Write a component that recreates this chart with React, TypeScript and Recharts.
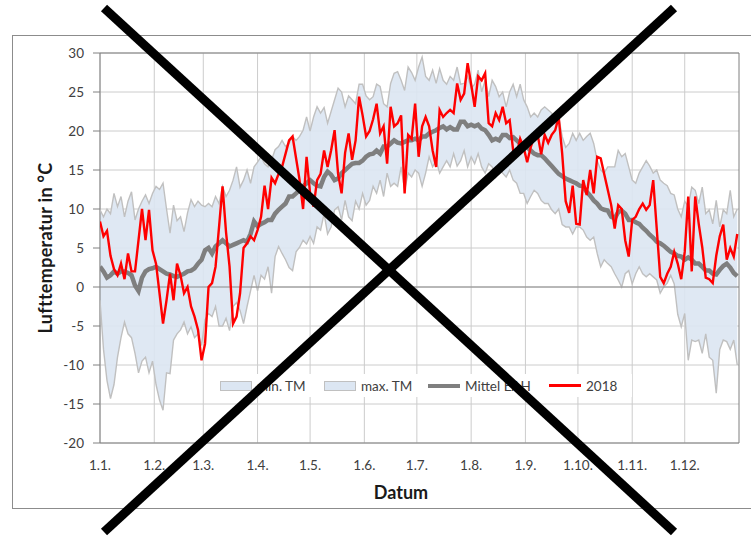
import React from "react"
import {
  ComposedChart, Area, Line, XAxis, YAxis, CartesianGrid,
  ReferenceLine, ReferenceArea,
} from "recharts"

// readings taken every second day of the year (day 0 = 1.1.)
const DAY_STEP = 2

const MONTH_START_DAYS = [0, 31, 59, 90, 120, 151, 181, 212, 243, 273, 304, 334]
const MONTH_LABELS = ["1.1.", "1.2.", "1.3.", "1.4.", "1.5.", "1.6.", "1.7.", "1.8.", "1.9.", "1.10.", "1.11.", "1.12."]
const Y_TICKS = [-20, -15, -10, -5, 0, 5, 10, 15, 20, 25, 30]

const T_2018 = [
  8.4, 6.5, 7.2, 4, 2.3, 1.5, 3, 1.0, 4.3, 2.0,
  2.0, 6.0, 10.0, 6.0, 9.9, 4.7, 3.0, -0.8, -4.7, -1.7,
  1.7, -1.7, 3.0, 1.5, -0.8, 0.0, -2.5, -3.8, -5.5, -9.4,
  -7.3, 0, 0.5, 2.6, 7.7, 12.9, 7, 2.6, -4.7, -3.8,
  -0.8, 5, 5.6, 6.5, 6, 7.3, 9, 13, 10, 14,
  13.3, 14.5, 15.4, 17.1, 18.8, 19.3, 16.5, 13.7, 10, 16.7,
  12, 10.3, 13.7, 14.5, 17.5, 15.4, 17.5, 20.1, 14.5, 12,
  17.2, 19.7, 16.3, 18.8, 24.4, 22, 19.3, 20, 21.5, 23.5,
  19.7, 20.6, 15.8, 23.1, 20.6, 21, 22, 12, 19.5, 19,
  23.5, 16.7, 20.6, 21.8, 20.6, 17.5, 15.4, 22.7, 21.8, 22.3,
  22.7, 22.3, 26.1, 24, 24.8, 28.7, 26, 23.1, 27, 26.5,
  27.4, 21, 20.6, 22.3, 21.4, 23.1, 21, 21.4, 17.5, 17,
  19, 17.9, 16, 17.9, 19.3, 19.5, 17, 19.5, 18.5, 19.5,
  20.1, 21.8, 17.1, 11, 9.5, 13, 8.1, 8, 13.7, 11.8,
  15, 12, 16.7, 16.5, 14.5, 12.5, 10.5, 7.5, 10.5, 10,
  6, 3.9, 8.6, 9, 10, 10.7, 9.9, 10.5, 13.7, 7.5,
  1.3, 0.5, 1.7, 2.6, 4.5, 3, 1, 4.5, 11.6, 2,
  11.6, 8.1, 5.1, 1.2, 1, 0.5, 4, 6.5, 8, 3.5,
  5, 3.9, 6.8,
]

const MAX_TM = [
  9.9, 9, 10, 9.4, 12, 10.3, 11.6, 9, 11, 12.2,
  8.6, 10, 11, 11.8, 10.7, 12, 12.9, 12.5, 13.3, 10,
  6.9, 10.5, 8.5, 9, 7.1, 9.5, 11.2, 10.3, 11, 10.5,
  10.3, 10.7, 10.3, 11.6, 10.7, 12.9, 11.6, 12.4, 13.7, 15.4,
  12.8, 13.7, 15, 13.3, 15.4, 16, 16.7, 15.8, 15.4, 16.3,
  17.6, 18, 18.8, 18, 18.4, 19.3, 18.8, 19.3, 20.1, 21.8,
  20, 21.8, 23.1, 22.3, 23, 21, 22.5, 24, 25.5, 25,
  23.1, 24.5, 24, 23.5, 26, 26, 24.5, 24, 24.4, 26,
  25.7, 23.5, 23.1, 26.1, 27.4, 27.6, 26.5, 25.2, 28.2, 27.5,
  26.5, 28.2, 29.5, 27, 26.5, 27.8, 26.1, 28, 26.5, 26,
  27, 26.5, 28.2, 26, 26.1, 27, 25.5, 26, 27.8, 25,
  26.5, 24.4, 26.5, 25.7, 24.4, 25, 23.1, 25, 26, 24.4,
  26, 24, 23.1, 21.8, 22.3, 21.8, 22.7, 23.1, 22.7, 22.3,
  21, 21.8, 19.3, 17.9, 18.4, 19.7, 18.8, 19.7, 18.8, 19.3,
  19.7, 18.4, 16.2, 15, 14.6, 15.4, 15.4, 15.4, 17.5, 16.7,
  17.1, 15.4, 13.7, 13.3, 14.6, 15.4, 16.2, 15.5, 14.6, 15,
  13.7, 13.3, 13, 12, 11.8, 10, 9, 11, 10.3, 12.8,
  12.4, 10.7, 12.8, 9.4, 9.9, 8.1, 11.1, 7.7, 9.9, 9.4,
  12.4, 9, 10,
]

const MIN_TM = [
  -1.7, -8, -12, -14.3, -12.5, -9, -6.5, -4.5, -6, -6.5,
  -8.5, -11, -9.5, -9, -11, -9.5, -12.5, -14.5, -15.8, -11,
  -11.1, -6.8, -6, -5.5, -4.5, -6, -5.1, -6.5, -6, -7.5,
  -4.2, -3.4, -3.8, -2.5, -5, -5, -4, -5.6, -2.5, -2,
  -3, -4.7, -2.5, -0.5, 1.5, -0.5, 1.5, 1, 2.6, -0.8,
  3.9, 5.2, 4.3, 3.5, 2.5, 2.1, 4.5, 5.1, 6, 5.5,
  6.5, 5.6, 7.7, 7.3, 9.4, 6.8, 7.7, 9.9, 10.3, 8.6,
  11.1, 9, 8.5, 11, 10, 12, 10.5, 11.1, 12.9, 12,
  13.7, 11.6, 14.6, 12.9, 13.3, 12.9, 15.4, 12.4, 14.6, 14.1,
  15, 14.6, 12.9, 14.6, 16.7, 15.4, 16.2, 14.6, 15.4, 16.2,
  15.4, 17.1, 15.5, 16.2, 17.5, 15.4, 16.7, 15.8, 17.1, 15.4,
  14.6, 15.8, 15.4, 14.1, 15.4, 14.6, 14.1, 15, 13.7, 13.3,
  12, 12, 10.7, 11.6, 12.4, 12, 11.1, 10.7, 10.7, 9.9,
  9.4, 10, 8, 7.7, 7.7, 6.8, 7.7, 7.7, 7.3, 6.4,
  6, 6.4, 4.3, 2.6, 3.5, 3, 2.6, 1.7, 0.9, 0,
  1.7, 2.1, 0.4, 1.7, 2.6, 1.7, 1.3, 1.7, 1.3, 0.9,
  -0.8, 0, 0.5, 1.5, 0.4, -3.5, -5.1, -3.4, -9.4, -6.8,
  -7, -6.8, -8.5, -6, -9, -9.4, -13.6, -8, -6.8, -7,
  -8, -6.8, -10,
]

const MEAN_EAH = [
  2.6, 2, 1.2, 1.5, 2, 1.7, 2, 2, 1.8, 1.5,
  0.2, -0.5, 1.2, 2, 2.3, 2.4, 2.6, 2.3, 2, 1.7,
  1.6, 1.4, 1.3, 1.5, 1.7, 2, 2.1, 2.4, 3, 3.5,
  4.7, 5, 4.3, 5.2, 5.6, 6, 5.6, 5.2, 5.4, 5.6,
  5.8, 6, 5.8, 6.8, 8.4, 7.8, 8.1, 8.3, 8.6, 8.6,
  9.4, 9.9, 10.3, 10.7, 11.6, 11.6, 12, 12.4, 12.9, 13.3,
  13.7, 13.3, 13, 12.9, 14.1, 14.8, 14.4, 13.7, 13.9, 14.6,
  15, 15.4, 15.8, 15.9, 15.9, 16.2, 16.7, 17, 17.1, 17.5,
  17.1, 18, 18, 18.4, 18.8, 18.5, 18.4, 18.6, 18.8, 18.8,
  19, 18.8, 19.3, 19.3, 19.7, 19.9, 20.1, 20.4, 20.6, 20.2,
  20.5, 20.2, 20.2, 21.2, 21.2, 20.6, 20.8, 20.6, 20.8, 20.3,
  20.1, 19.5, 18.8, 19, 18.8, 19.5, 19.5, 19.1, 19.2, 18.8,
  18.4, 17.9, 17.9, 17.5, 17.1, 16.9, 16.9, 16.5, 16, 15.5,
  15, 14.5, 14.2, 13.9, 13.7, 13.5, 13.3, 13, 12.9, 12.2,
  11.7, 11.1, 10.7, 10.1, 9.9, 9.8, 9, 8.8, 9.6, 9.8,
  9.4, 8.6, 8.6, 8.3, 8.1, 7.6, 7.2, 6.7, 6.3, 5.8,
  5.6, 5.3, 4.9, 4.5, 4.3, 4, 3.9, 3.5, 3.8, 3.5,
  3, 3, 2.6, 2.1, 2.1, 1.7, 1.6, 2.2, 2.7, 3,
  2.5, 1.8, 1.4,
]

const data = T_2018.map((t, i) => ({
  day: i * DAY_STEP,
  band: [MIN_TM[i], MAX_TM[i]],
  minTM: MIN_TM[i],
  maxTM: MAX_TM[i],
  mean: MEAN_EAH[i],
  y2018: t,
}))

const FONT = "Lato, 'Open Sans', sans-serif"
const BAND_FILL = "#dce6f2"
const BAND_EDGE = "#c0c0c0"
const MEAN_COLOUR = "#7f7f7f"
const RED = "#ff0000"

// legend entries, with the x where each one starts
const LEGEND = [
  { name: "min. TM", kind: "box", left: 220 },
  { name: "max. TM", kind: "box", left: 324 },
  { name: "Mittel EAH", kind: "mean", left: 428 },
  { name: "2018", kind: "red", left: 549 },
]

function LegendBox() {
  return (
    <div style={{
      position: "absolute", left: 214, top: 374, width: 418, height: 23,
      background: "#fff", fontFamily: FONT,
    }}>
      {LEGEND.map((e) => {
        let mark
        if (e.kind === "box") {
          mark = <div style={{ width: 30, height: 8, background: BAND_FILL, border: `1px solid ${BAND_EDGE}` }} />
        } else if (e.kind === "mean") {
          mark = <div style={{ width: 32, height: 4, background: MEAN_COLOUR }} />
        } else {
          mark = <div style={{ width: 32, height: 2.4, background: RED }} />
        }
        return (
          <div key={e.name} style={{
            position: "absolute", left: e.left - 214, top: 0, height: 23,
            display: "flex", alignItems: "center", whiteSpace: "nowrap",
          }}>
            {mark}
            <span style={{ fontSize: 13.5, color: "#404040", marginLeft: 5 }}>{e.name}</span>
          </div>
        )
      })}
    </div>
  )
}

export default function App() {
  return (
    <div style={{ position: "absolute", left: 0, top: 0, width: 751, height: 537, overflow: "hidden", background: "#fff" }}>
      {/* chart area frame */}
      <div style={{ position: "absolute", left: 12, top: 35, width: 780, height: 472, border: "1px solid #8c8c8c" }} />

      <div style={{ position: "absolute", left: 0, top: 0 }}>
        <ComposedChart width={751} height={537} data={data}
          margin={{ top: 53, right: 12, bottom: 64, left: 12 }}>
          <CartesianGrid stroke="#cccccc" horizontalValues={Y_TICKS} verticalValues={MONTH_START_DAYS} />
          <XAxis
            dataKey="day" type="number" domain={[0, 365]} ticks={MONTH_START_DAYS}
            tickFormatter={(d: number) => MONTH_LABELS[MONTH_START_DAYS.indexOf(d)]}
            axisLine={false} tickLine={false} tickSize={6} tickMargin={11} height={30}
            tick={{ fill: "#404040", fontSize: 13.5, fontFamily: FONT }}
            interval={0} allowDataOverflow
          />
          <YAxis
            type="number" domain={[-20, 30]} ticks={Y_TICKS} width={88}
            axisLine={false} tickLine={{ stroke: "#808080" }} tickSize={7} tickMargin={9}
            tick={{ fill: "#404040", fontSize: 13.5, fontFamily: FONT }}
            allowDataOverflow
          />
          <Area dataKey="band" type="linear" fill={BAND_FILL} fillOpacity={0.9} stroke="none" isAnimationActive={false} />
          <Line dataKey="minTM" type="linear" stroke={BAND_EDGE} strokeWidth={1.4} dot={false} isAnimationActive={false} />
          <Line dataKey="maxTM" type="linear" stroke={BAND_EDGE} strokeWidth={1.4} dot={false} isAnimationActive={false} />
          <ReferenceLine y={0} stroke="#8a8a8a" />
          <Line dataKey="mean" type="linear" stroke={MEAN_COLOUR} strokeWidth={4.5} dot={false} isAnimationActive={false} />
          <Line dataKey="y2018" type="linear" stroke={RED} strokeWidth={2.4} dot={false} isAnimationActive={false} />
          <ReferenceArea x1={0} x2={365} y1={-20} y2={30} fill="none" stroke="#7f7f7f" ifOverflow="visible" />
        </ComposedChart>
      </div>

      <LegendBox />

      <div style={{
        position: "absolute", left: 45, top: 248, transform: "translate(-50%, -50%) rotate(-90deg)",
        whiteSpace: "nowrap", fontFamily: FONT, fontWeight: 700, fontSize: 18, letterSpacing: 0.3, color: "#1a1a1a",
      }}>Lufttemperatur in °C</div>
      <div style={{
        position: "absolute", left: 401, top: 492, transform: "translate(-50%, -50%)",
        whiteSpace: "nowrap", fontFamily: FONT, fontWeight: 700, fontSize: 18, color: "#1a1a1a",
      }}>Datum</div>

      {/* the big cross drawn over the picture */}
      <svg width={751} height={537} style={{ position: "absolute", left: 0, top: 0, pointerEvents: "none" }}>
        <line x1={104} y1={8} x2={674} y2={532} stroke="#000" strokeWidth={9} />
        <line x1={674} y1={8} x2={104} y2={532} stroke="#000" strokeWidth={9} />
      </svg>
    </div>
  )
}
